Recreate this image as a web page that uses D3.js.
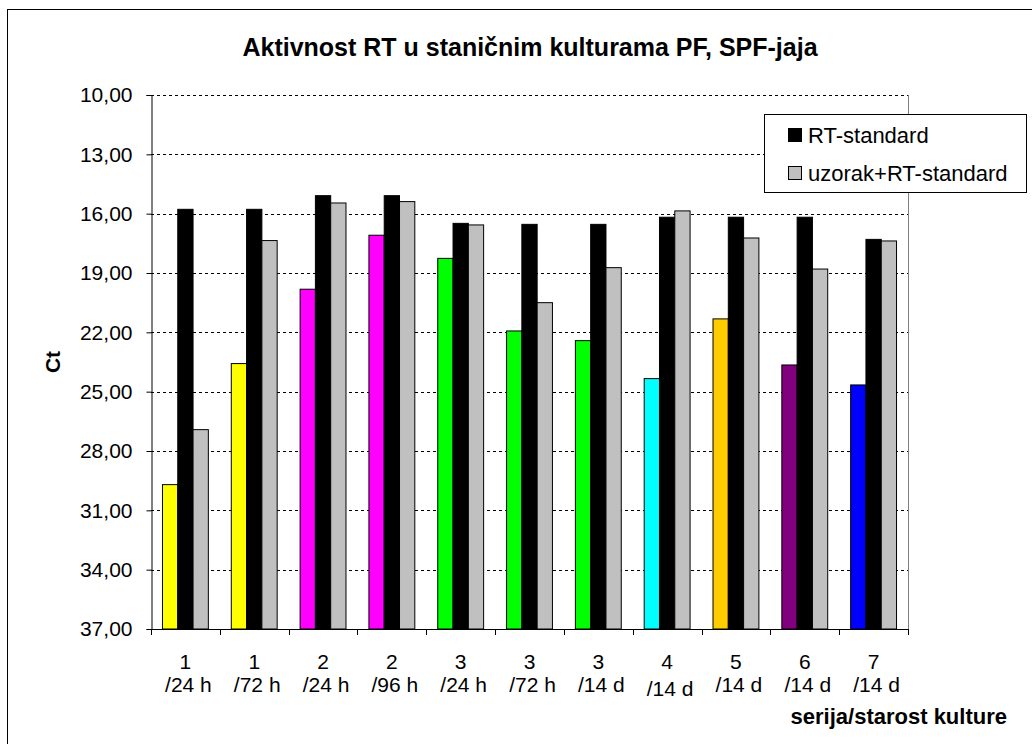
<!DOCTYPE html>
<html>
<head>
<meta charset="utf-8">
<script src="https://cdn.jsdelivr.net/npm/d3@7/dist/d3.min.js"></script>
<style>
  body { margin: 0; background: #fff; }
  svg { display: block; font-family: "Liberation Sans", Arial, sans-serif; }
</style>
</head>
<body>
<svg id="chart" width="1032" height="744"></svg>
<script>
const categoriesTop = ["1", "1", "2", "2", "3", "3", "3", "4", "5", "6", "7"];
const categoriesBottom = ["/24 h", "/72 h", "/24 h", "/96 h", "/24 h", "/72 h", "/14 d", "/14 d", "/14 d", "/14 d", "/14 d"];
const sampleValues = [29.70, 23.58, 19.82, 17.09, 18.26, 21.93, 22.42, 24.34, 21.32, 23.65, 24.66];
const sampleColors = ["#FFFF00", "#FFFF00", "#FF00FF", "#FF00FF", "#00FF00", "#00FF00", "#00FF00", "#00FFFF", "#FFCC00", "#800080", "#0000FF"];
const rtStandard = [15.78, 15.78, 15.09, 15.09, 16.49, 16.54, 16.54, 16.18, 16.18, 16.18, 17.30];
const uzorakRtStandard = [26.92, 17.36, 15.46, 15.39, 16.57, 20.50, 18.73, 15.86, 17.23, 18.80, 17.38];
const yTicks = [10, 13, 16, 19, 22, 25, 28, 31, 34, 37];
const seriesNames = ["RT-standard", "uzorak+RT-standard"];
const seriesColors = ["#000000", "#C0C0C0"];

const svg = d3.select("#chart");
const L = 151, R = 908, T = 95, B = 629;

// outer frame
svg.append("rect").attr("x", 7.5).attr("y", 9.5).attr("width", 1040).attr("height", 760)
  .attr("fill", "#fff").attr("stroke", "#000").attr("stroke-width", 1);

const idx = d3.range(categoriesTop.length);
const x = d3.scaleBand().domain(idx).range([L, R]).paddingInner(0).paddingOuter(0);
const y = d3.scaleLinear().domain([10, 37]).range([T, B]);
const bw = x.bandwidth() / 4.5;
const off = (x.bandwidth() - 3 * bw) / 2;

// plot area right border
svg.append("line").attr("x1", R + 0.5).attr("x2", R + 0.5).attr("y1", T).attr("y2", B)
  .attr("stroke", "#808080").attr("stroke-width", 1);

// gridlines
svg.append("g").selectAll("line").data(yTicks.filter(t => t !== 37)).join("line")
  .attr("x1", L).attr("x2", R)
  .attr("y1", d => Math.round(y(d)) + 0.5).attr("y2", d => Math.round(y(d)) + 0.5)
  .attr("stroke", "#000").attr("stroke-width", 1).attr("stroke-dasharray", "3,3");

// y axis
const yAxis = d3.axisLeft(y).tickValues(yTicks).tickSize(5).tickPadding(14)
  .tickFormat(d => d.toFixed(2).replace(".", ","));
const gy = svg.append("g").attr("transform", `translate(${L + 0.5},0)`).call(yAxis);
gy.select(".domain").attr("stroke", "#000");
gy.selectAll(".tick line").attr("stroke", "#000");
gy.selectAll(".tick text").attr("font-size", 21).attr("fill", "#000")
  .attr("font-family", "Liberation Sans, Arial, sans-serif");

// bars
const groups = svg.append("g").selectAll("g").data(idx).join("g")
  .attr("transform", i => `translate(${x(i) + off},0)`);
groups.append("rect").attr("x", 0).attr("width", bw)
  .attr("y", i => y(sampleValues[i])).attr("height", i => y(37) - y(sampleValues[i]))
  .attr("fill", i => sampleColors[i]).attr("stroke", "#000").attr("stroke-width", 1);
groups.append("rect").attr("x", bw).attr("width", bw)
  .attr("y", i => y(rtStandard[i])).attr("height", i => y(37) - y(rtStandard[i]))
  .attr("fill", seriesColors[0]).attr("stroke", "#000").attr("stroke-width", 1);
groups.append("rect").attr("x", 2 * bw).attr("width", bw)
  .attr("y", i => y(uzorakRtStandard[i])).attr("height", i => y(37) - y(uzorakRtStandard[i]))
  .attr("fill", seriesColors[1]).attr("stroke", "#000").attr("stroke-width", 1);

// x axis
const bounds = idx.map(i => x(i)).concat([R]);
svg.append("line").attr("x1", L).attr("x2", R + 1).attr("y1", B + 0.5).attr("y2", B + 0.5)
  .attr("stroke", "#000");
svg.append("g").selectAll("line").data(bounds).join("line")
  .attr("x1", d => Math.round(d) + 0.5).attr("x2", d => Math.round(d) + 0.5)
  .attr("y1", B).attr("y2", B + 6).attr("stroke", "#000");

const xl = svg.append("g").selectAll("text").data(idx).join("text")
  .attr("text-anchor", "middle").attr("font-size", 21).attr("fill", "#000")
  .attr("x", i => x(i) + x.bandwidth() / 2 + 2);
xl.append("tspan").attr("x", i => x(i) + x.bandwidth() / 2).attr("y", 669).text(i => categoriesTop[i]);
xl.append("tspan").attr("x", i => x(i) + x.bandwidth() / 2 + 3).attr("y", i => i === 7 ? 696 : 692).text(i => categoriesBottom[i]);

// title
svg.append("text").attr("x", 530).attr("y", 56).attr("text-anchor", "middle")
  .attr("font-size", 25).attr("font-weight", "bold").attr("fill", "#000")
  .text("Aktivnost RT u staničnim kulturama PF, SPF-jaja");

// axis titles
svg.append("text").attr("x", 1007).attr("y", 724).attr("text-anchor", "end")
  .attr("font-size", 22).attr("font-weight", "bold").attr("fill", "#000")
  .text("serija/starost kulture");
svg.append("text").attr("transform", "translate(60,362) rotate(-90)").attr("text-anchor", "middle")
  .attr("font-size", 21).attr("font-weight", "bold").attr("fill", "#000").text("Ct");

// legend
const lg = svg.append("g");
lg.append("rect").attr("x", 764.5).attr("y", 114.5).attr("width", 262).attr("height", 78)
  .attr("fill", "#fff").attr("stroke", "#000").attr("stroke-width", 1);
const items = lg.selectAll("g").data(seriesNames).join("g")
  .attr("transform", (d, i) => `translate(788,${135 + i * 38})`);
items.append("rect").attr("x", 0.5).attr("y", -6.5).attr("width", 13).attr("height", 13)
  .attr("fill", (d, i) => seriesColors[i]).attr("stroke", "#000");
items.append("text").attr("x", 20).attr("y", 7.5).attr("font-size", 22).attr("fill", "#000")
  .text(d => d);
</script>
</body>
</html>
